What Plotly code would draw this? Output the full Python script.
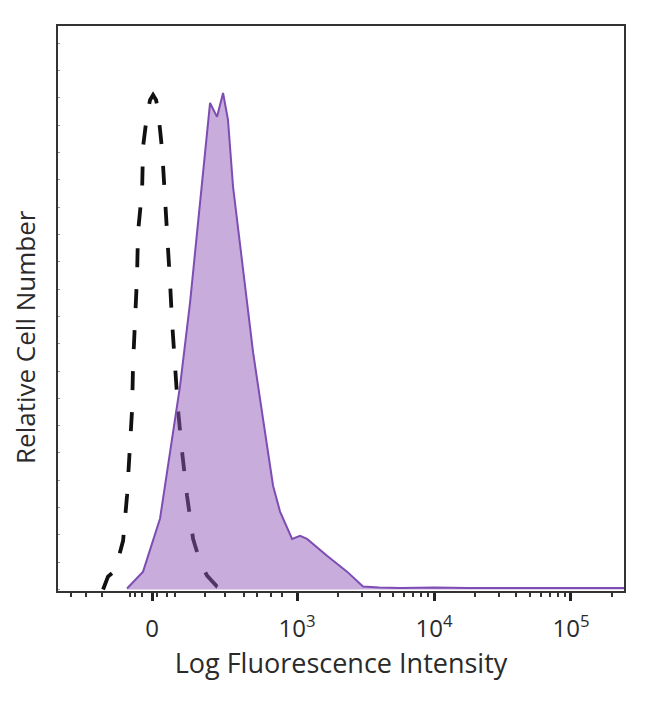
import numpy as np
import plotly.graph_objects as go

# x positions in display (biexponential) units: 10^3 -> 3, 10^4 -> 4, 10^5 -> 5, 0 -> 1.942
stained_x = [1.759, 1.876, 2.000, 2.073, 2.146, 2.219, 2.292, 2.365, 2.416, 2.460, 2.496,
             2.533, 2.606, 2.679, 2.752, 2.825, 2.876, 2.964, 3.022, 3.073, 3.219, 3.365,
             3.482, 3.600, 3.752, 4.000, 4.250, 4.482, 4.750, 5.000, 5.212, 5.387]
stained_y = [0.2, 3.6, 14.3, 27.7, 41.0, 57.8, 77.9, 98.0, 95.2, 100.0, 94.6,
             81.1, 64.5, 47.8, 34.3, 20.9, 15.7, 10.2, 10.8, 10.2, 6.8, 3.6,
             0.6, 0.4, 0.3, 0.4, 0.3, 0.3, 0.4, 0.3, 0.3, 0.3]

control_x = [1.584, 1.620, 1.672, 1.730, 1.759, 1.781, 1.796, 1.803, 1.818, 1.832, 1.839,
             1.869, 1.876, 1.905, 1.927, 1.949, 1.971, 1.985, 2.015, 2.036, 2.058, 2.073,
             2.088, 2.109, 2.131, 2.161, 2.197, 2.241, 2.292, 2.343, 2.416, 2.474]
control_y = [0.0, 2.6, 3.8, 9.8, 18.9, 27.9, 36.3, 45.4, 54.0, 63.1, 71.9,
             80.5, 89.2, 95.6, 98.6, 99.6, 98.6, 96.6, 88.6, 79.1, 70.5, 61.8,
             53.8, 45.0, 36.3, 27.7, 18.9, 10.2, 5.6, 2.8, 0.6, 0.0]

major_tickvals = [1.942, 3, 4, 5]
major_ticktext = ["0", "10<sup>3</sup>", "10<sup>4</sup>", "10<sup>5</sup>"]
minor_linear_ticks = [1.350, 1.460, 1.577, 1.781, 1.818, 1.869, 1.978, 2.051, 2.109,
                      2.328, 2.474, 2.613, 2.708, 2.810, 2.891]
minor_log_ticks = [d + np.log10(k) for d in (3, 4) for k in range(2, 10)] + [5 + np.log10(2)]
minor_tickvals = minor_linear_ticks + minor_log_ticks

x_title = "Log Fluorescence Intensity"
y_title = "Relative Cell Number"

x_range = [1.255, 5.387]
y_range = [-0.3, 113.5]

fig = go.Figure()
fig.add_trace(go.Scatter(
    x=control_x, y=control_y, mode="lines",
    line=dict(color="#111111", width=3.8, dash="19px,22px"),
    hoverinfo="skip", showlegend=False))
fig.add_trace(go.Scatter(
    x=stained_x, y=stained_y, mode="lines", fill="tozeroy",
    fillcolor="rgba(145,90,185,0.5)",
    line=dict(color="#7d4db3", width=2),
    hoverinfo="skip", showlegend=False))
# invisible trace on secondary x axis for minor ticks
fig.add_trace(go.Scatter(x=[x_range[0]], y=[0], xaxis="x2", mode="markers",
                         marker=dict(opacity=0), hoverinfo="skip", showlegend=False))

font_family = "Open Sans, Liberation Sans, sans-serif"
fig.update_layout(
    width=650, height=704,
    margin=dict(l=50, r=34, t=18, b=121),
    paper_bgcolor="white", plot_bgcolor="white",
    xaxis=dict(range=x_range, tickvals=major_tickvals, ticktext=major_ticktext,
               ticks="outside", ticklen=8, tickwidth=2.5, tickcolor="#222",
               showline=True, mirror=True, linecolor="#333", linewidth=2,
               showgrid=False, zeroline=False, automargin=False,
               ticklabelstandoff=7,
               tickfont=dict(family=font_family, size=24, color="#2a2a2a"),
               title=dict(text=x_title,
                          font=dict(family=font_family, size=27, color="#2a2a2a"),
                          standoff=10)),
    xaxis2=dict(range=x_range, overlaying="x", anchor="y", side="bottom",
                tickvals=minor_tickvals, showticklabels=False,
                ticks="outside", ticklen=5, tickwidth=2, tickcolor="#333",
                showline=False, showgrid=False, zeroline=False),
    yaxis=dict(range=y_range, showticklabels=False, ticks="inside", ticklen=2,
               tickwidth=1, tickcolor="#999", dtick=5.5, tick0=0,
               showline=True, mirror=True, linecolor="#333", linewidth=2,
               showgrid=False, zeroline=False, automargin=False),
    annotations=[dict(text=y_title, textangle=-90, xref="paper", yref="paper",
                      x=0, y=0.4496, xshift=-33, xanchor="center", yanchor="middle",
                      showarrow=False, borderpad=0,
                      font=dict(family=font_family, size=26, color="#2a2a2a"))],
)

fig.write_html("out.html")
